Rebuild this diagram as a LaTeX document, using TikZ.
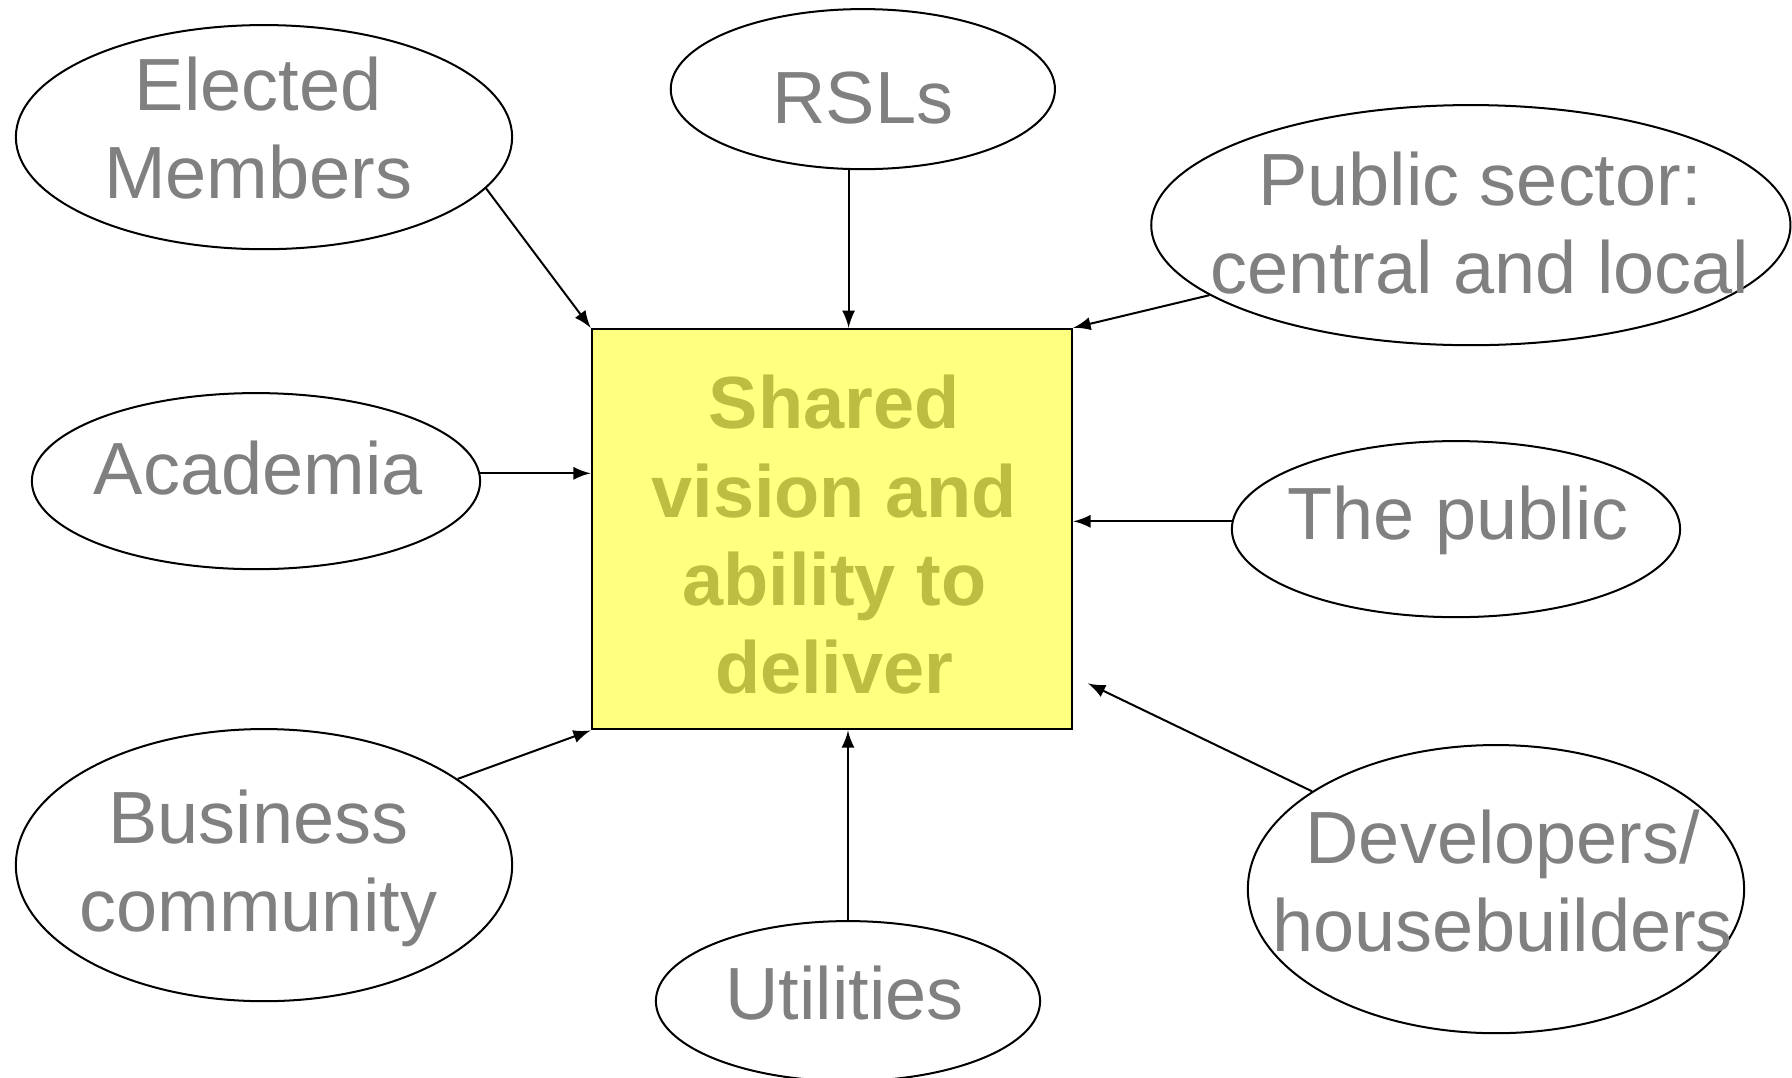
\documentclass[tikz,border=0pt]{standalone}
\usepackage{fontspec}
\setmainfont{Liberation Sans}
\usepackage{tikz}
\usepackage{xcolor}
\usetikzlibrary{shapes.geometric}
\definecolor{labelgrey}{RGB}{128,128,128}
\definecolor{boxyellow}{RGB}{255,255,128}
\definecolor{boxolive}{RGB}{189,189,66}
\tikzset{
    actor-oval/.style = {draw=black, line width=0.5pt, ellipse, inner sep=0pt},
    actor-text/.style = {text=labelgrey, align=center, inner sep=0pt, font=\fontsize{18.4}{22}\selectfont},
    vision-box/.style = {draw=black, fill=boxyellow, line width=0.6pt, rectangle, inner sep=0pt,
        minimum width=4.2cm, minimum height=3.5cm},
    vision-text/.style = {text=boxolive, align=center, inner sep=0pt, font=\fontsize{18.4}{22}\selectfont\bfseries},
    feed/.style = {-latex, line width=0.5pt},
}

\begin{document}
\begin{tikzpicture}[x=0.01cm, y=-0.01cm]
\useasboundingbox (0,0) rectangle (1568,943);
% centre box
\node [vision-box] (box) at (728,463) {};
\node [vision-text] (vision) at (730,468) {Shared\\vision and\\ability to\\deliver};
% the actors round it
\node [actor-oval, minimum width=4.34cm, minimum height=1.96cm] (elected) at (231,120) {};
\node [actor-text] at (226,112) {Elected\\Members};
\node [actor-oval, minimum width=3.36cm, minimum height=1.4cm] (rsls) at (755,78) {};
\node [actor-text] at (755,86) {RSLs};
\node [actor-oval, minimum width=5.59cm, minimum height=2.1cm] (public) at (1287,197) {};
\node [actor-text] at (1295,195) {Public sector:\\central and local};
\node [actor-oval, minimum width=3.92cm, minimum height=1.54cm] (academia) at (224,421) {};
\node [actor-text] at (226,410) {Academia};
\node [actor-oval, minimum width=3.92cm, minimum height=1.54cm] (thepublic) at (1274,463) {};
\node [actor-text] at (1276,455) {The public};
\node [actor-oval, minimum width=4.34cm, minimum height=2.38cm] (business) at (231,757) {};
\node [actor-text] at (226,760) {Business\\community};
\node [actor-oval, minimum width=3.36cm, minimum height=1.4cm] (utilities) at (742,876) {};
\node [actor-text] at (739,869) {Utilities};
\node [actor-oval, minimum width=4.34cm, minimum height=2.52cm] (developers) at (1309,778) {};
\node [actor-text] at (1315,771) {Developers/\\housebuilders};
\coordinate (devtip) at (952,598);
% arrows into the box
\draw [feed] (elected.-13) -- (box.north west);
\draw [feed] (rsls.-100) -- (rsls.-100 |- box.north);
\draw [feed] (public.195) -- (box.north east);
\draw [feed] (academia.2) -- (box.west |- academia.2);
\draw [feed] (thepublic.178) -- (box.east |- thepublic.178);
\draw [feed] (business.24) -- (box.south west);
\draw [feed] (utilities.north) -- (utilities.north |- box.south);
\draw [feed] (developers.152) -- (devtip);
\end{tikzpicture}
\end{document}
